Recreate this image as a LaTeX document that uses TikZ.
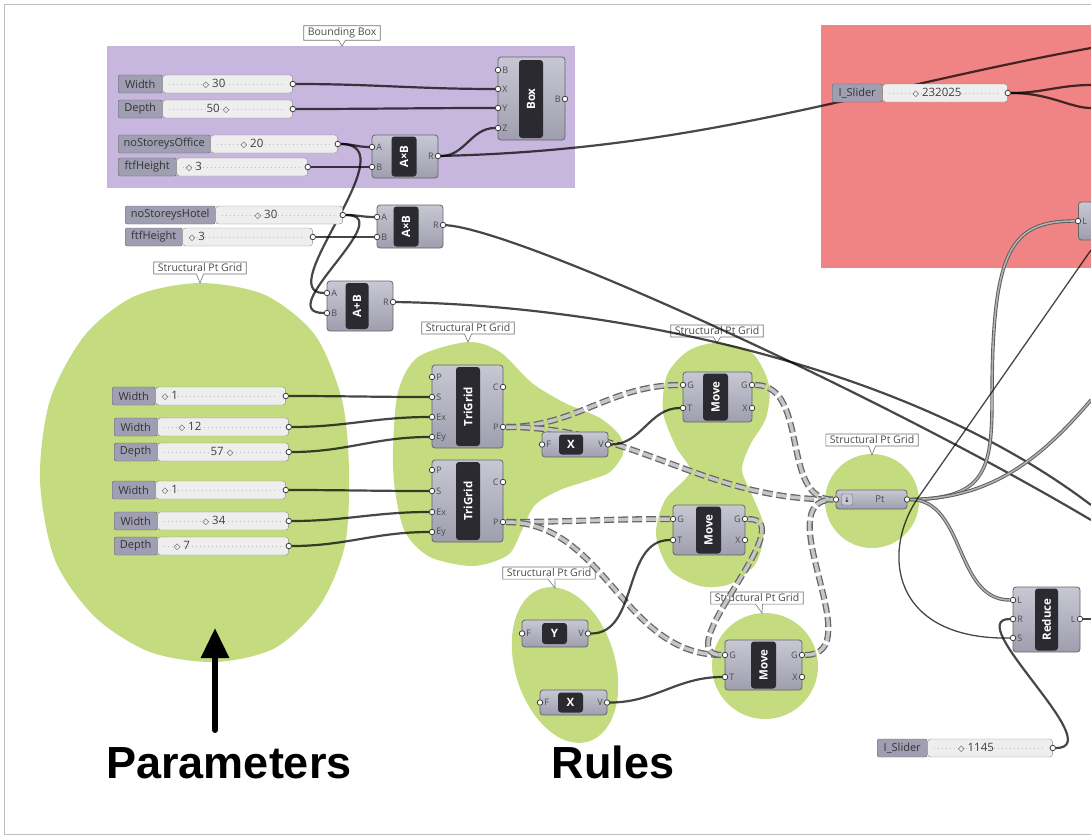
\documentclass[tikz,border=0pt]{standalone}
\usepackage{fontspec}
\setmainfont{Open Sans}
\newfontfamily\headfont{Liberation Sans}
\newfontfamily\knobfont{DejaVu Sans}
\newcommand\knob{{\knobfont\bfseries\fontsize{8.5}{9}\selectfont ◇}}
\usetikzlibrary{arrows.meta,shapes.geometric,shapes.callouts}

\definecolor{grppurple}{RGB}{199,182,221}
\definecolor{grpred}{RGB}{240,131,131}
\definecolor{grpgreen}{RGB}{196,219,128}
\definecolor{comptop}{RGB}{200,200,212}
\definecolor{compbody}{RGB}{158,158,174}
\definecolor{coredark}{RGB}{42,42,48}
\definecolor{slabfill}{RGB}{160,158,178}
\definecolor{barfill}{RGB}{238,238,238}

\pgfdeclarelayer{bg}
\pgfdeclarelayer{wires}
\pgfsetlayers{bg,wires,main}

\begin{document}
\begin{tikzpicture}[x=1pt, y=-1pt,
    comp/.style={draw=black!60, top color=comptop, bottom color=compbody, rounded corners=3pt, line width=0.8pt, inner sep=0pt},
    core/.style={fill=coredark, text=white, rounded corners=3pt, inner sep=0pt, font=\bfseries\fontsize{11.5}{12}\selectfont},
    vcore/.style={core, rotate=90},
    port/.style={circle, draw=black!75, fill=white, line width=0.8pt, minimum size=5.5pt, inner sep=0pt, label distance=1.5pt},
    inp/.style={port, label={[plab]right:#1}},
    outp/.style={port, label={[plab]left:#1}},
    plab/.style={font=\fontsize{9}{10}\selectfont, text=black!70, inner sep=1pt},
    slab/.style={draw=black!60, fill=slabfill, rounded corners=2pt, minimum height=18pt, inner sep=0pt, anchor=west, font=\fontsize{11}{12}\selectfont, text=black!80},
    sbar/.style={draw=black!45, fill=barfill, rounded corners=3pt, minimum height=18pt, inner sep=0pt, anchor=west,
        path picture={\draw[black!25, line width=0.6pt, dash pattern=on 0.6pt off 3.4pt] ([xshift=6pt]path picture bounding box.west) -- ([xshift=-8pt]path picture bounding box.east);}},
    sval/.style={font=\fontsize{11.5}{12}\selectfont, text=black!75, inner sep=0pt},
    hull/.style={fill=grpgreen, inner sep=0pt},
    gtag/.style={rectangle callout, draw=black!55, fill=white, line width=0.6pt, font=\fontsize{10.5}{11}\selectfont, text=black!70, inner xsep=4pt, inner ysep=2pt, callout pointer width=7pt},
    wire/.style={line width=2.2pt, draw=black, draw opacity=0.72},
    treewire/.style={line width=1.3pt, draw=black!60, double=gray!45, double distance=3.5pt, dash pattern=on 10pt off 4pt},
    dblwire/.style={line width=0.9pt, draw=black!65, double=gray!60, double distance=1.6pt},
    bigtxt/.style={font=\headfont\bfseries\fontsize{45}{45}\selectfont, inner sep=0pt, anchor=base},
    bigarrow/.style={line width=6pt, line cap=round, -{Triangle[length=30pt, width=27pt]}}
]
    \useasboundingbox (0,0) rectangle (1091,838);

    % Groups
    \begin{pgfonlayer}{bg}
    \draw[black!25, line width=1pt] (1091,4) -- (4,4) -- (4,834) -- (1091,834);
    \fill[grppurple] (107,46) rectangle (575,188);
    \fill[grpred] (821,25) rectangle (1091,268);
    \fill[grpgreen] plot[smooth cycle] coordinates {(200,283) (265,295) (315,335) (342,400) (349,470) (345,545) (320,605) (275,648) (215,662) (150,652) (95,617) (55,560) (40,480) (50,400) (85,335) (135,296)};
    \fill[grpgreen] plot[smooth cycle] coordinates {(468,342) (500,352) (532,383) (565,403) (600,418) (620,436) (623,454) (610,472) (590,480) (560,490) (535,505) (522,530) (508,555) (473,566) (430,557) (405,532) (395,490) (393,450) (398,392) (418,357)};
    \fill[grpgreen] plot[smooth cycle] coordinates {(717,343) (752,353) (769,385) (766,418) (750,445) (742,470) (752,495) (764,528) (756,563) (730,584) (700,586) (670,570) (656,535) (665,500) (690,472) (676,447) (663,412) (667,375) (688,351)};
    \node[hull, circle, minimum size=106pt] (mv3hull) at (765,666) {};
    \node[hull, circle, minimum size=94pt] (pthull) at (872,501) {};
    \node[hull, ellipse, minimum width=160pt, minimum height=100pt, rotate=-73] (yxhull) at (565,665) {};

    % Group tags
    \node[gtag, callout absolute pointer={(342,46)}] (bbtag) at (342,33) {Bounding Box};
    \node[gtag, callout absolute pointer={(200,283)}] (partag) at (200,268) {Structural Pt Grid};
    \node[gtag, callout absolute pointer={(468,342)}] (tgtag) at (468,328) {Structural Pt Grid};
    \node[gtag, callout absolute pointer={(717,343)}] (mvtag) at (717,331) {Structural Pt Grid};
    \node[gtag, callout absolute pointer={(872,455)}] (pttag) at (872,440) {Structural Pt Grid};
    \node[gtag, callout absolute pointer={(555,588)}] (yxtag) at (549,573) {Structural Pt Grid};
    \node[gtag, callout absolute pointer={(762,613)}] (mv3tag) at (757,598) {Structural Pt Grid};
    \end{pgfonlayer}

    % Bounding box sliders
    \node[slab, minimum width=44pt] (wB) at (118,84) {Width};
    \node[sbar, minimum width=130pt] (wBbar) at (wB.east) {};
    \node[sval] (wBval) at (214,84) {\knob\ 30};
    \node[port] (wBout) at (wBbar.east) {};
    \node[slab, minimum width=44pt] (dB) at (118,109) {Depth};
    \node[sbar, minimum width=130pt] (dBbar) at (dB.east) {};
    \node[sval] (dBval) at (218,109) {50 \knob};
    \node[port] (dBout) at (dBbar.east) {};
    \node[slab, minimum width=92pt] (offS) at (118,144) {noStoreysOffice};
    \node[sbar, minimum width=127pt] (offSbar) at (offS.east) {};
    \node[sval] (offSval) at (252,144) {\knob\ 20};
    \node[port] (offSout) at (offSbar.east) {};
    \node[slab, minimum width=58pt] (ftf1) at (118,167) {ftfHeight};
    \node[sbar, minimum width=131pt] (ftf1bar) at (ftf1.east) {};
    \node[sval] (ftf1val) at (194,167) {\knob\ 3};
    \node[port] (ftf1out) at (ftf1bar.east) {};

    % Hotel sliders
    \node[slab, minimum width=90pt] (hotS) at (125,215) {noStoreysHotel};
    \node[sbar, minimum width=127pt] (hotSbar) at (hotS.east) {};
    \node[sval] (hotSval) at (266,215) {\knob\ 30};
    \node[port] (hotSout) at (hotSbar.east) {};
    \node[slab, minimum width=57pt] (ftf2) at (125,237) {ftfHeight};
    \node[sbar, minimum width=130pt] (ftf2bar) at (ftf2.east) {};
    \node[sval] (ftf2val) at (197,237) {\knob\ 3};
    \node[port] (ftf2out) at (ftf2bar.east) {};

    % Grid parameters
    \node[slab, minimum width=43pt] (p1) at (112,396) {Width};
    \node[sbar, minimum width=130pt] (p1bar) at (p1.east) {};
    \node[sval] (p1val) at (170,396) {\knob\ 1};
    \node[port] (p1out) at (p1bar.east) {};
    \node[slab, minimum width=43pt] (p2) at (114,427) {Width};
    \node[sbar, minimum width=131pt] (p2bar) at (p2.east) {};
    \node[sval] (p2val) at (190,427) {\knob\ 12};
    \node[port] (p2out) at (p2bar.east) {};
    \node[slab, minimum width=43pt] (p3) at (114,452) {Depth};
    \node[sbar, minimum width=131pt] (p3bar) at (p3.east) {};
    \node[sval] (p3val) at (222,452) {57 \knob};
    \node[port] (p3out) at (p3bar.east) {};
    \node[slab, minimum width=43pt] (p4) at (112,490) {Width};
    \node[sbar, minimum width=130pt] (p4bar) at (p4.east) {};
    \node[sval] (p4val) at (170,490) {\knob\ 1};
    \node[port] (p4out) at (p4bar.east) {};
    \node[slab, minimum width=43pt] (p5) at (114,521) {Width};
    \node[sbar, minimum width=131pt] (p5bar) at (p5.east) {};
    \node[sval] (p5val) at (214,521) {\knob\ 34};
    \node[port] (p5out) at (p5bar.east) {};
    \node[slab, minimum width=43pt] (p6) at (114,546) {Depth};
    \node[sbar, minimum width=131pt] (p6bar) at (p6.east) {};
    \node[sval] (p6val) at (182,546) {\knob\ 7};
    \node[port] (p6out) at (p6bar.east) {};

    % Integer sliders
    \node[slab, minimum width=50pt] (lim) at (832,93) {I\_Slider};
    \node[sbar, minimum width=125pt] (limbar) at (lim.east) {};
    \node[sval] (limval) at (937,93) {\knob\ 232025};
    \node[port] (limout) at (limbar.east) {};
    \node[slab, minimum width=50pt] (cnt) at (877,748) {I\_Slider};
    \node[sbar, minimum width=125pt] (cntbar) at (cnt.east) {};
    \node[sval] (cntval) at (976,748) {\knob\ 1145};
    \node[port] (cntout) at (cntbar.east) {};

    % Box
    \node[comp, minimum width=67pt, minimum height=83pt] (box) at (531.5,98.5) {};
    \node[vcore, minimum width=78pt, minimum height=24pt] (boxcore) at (531,99) {Box};
    \foreach \p/\y in {B/70,X/89,Y/108,Z/128} \node[inp=\p] (box-\p) at (498,\y) {};
    \node[outp=B] (box-oB) at (565,99) {};

    % Multiplications and sum
    \node[comp, minimum width=66pt, minimum height=43pt] (offAB) at (405,156.5) {};
    \node[vcore, minimum width=40pt, minimum height=25pt] (offABcore) at (404,156.5) {A×B};
    \foreach \p/\y in {A/147,B/167} \node[inp=\p] (offAB-\p) at (372,\y) {};
    \node[outp=R] (offAB-oR) at (438,156) {};
    \node[comp, minimum width=66pt, minimum height=43pt] (hotAB) at (410,226.5) {};
    \node[vcore, minimum width=40pt, minimum height=25pt] (hotABcore) at (406,226.5) {A×B};
    \foreach \p/\y in {A/217,B/237} \node[inp=\p] (hotAB-\p) at (377,\y) {};
    \node[outp=R] (hotAB-oR) at (443,225) {};
    \node[comp, minimum width=66pt, minimum height=50pt] (sum) at (360,306) {};
    \node[vcore, minimum width=46pt, minimum height=23pt] (sumcore) at (357,306) {A+B};
    \foreach \p/\y in {A/293,B/313} \node[inp=\p] (sum-\p) at (327,\y) {};
    \node[outp=R] (sum-oR) at (393,302) {};

    % Triangular grids
    \node[comp, minimum width=71pt, minimum height=83pt] (tg1) at (467.5,406.5) {};
    \node[vcore, minimum width=79pt, minimum height=24pt] (tg1core) at (468,406.5) {TriGrid};
    \foreach \p/\y in {P/377,S/397,Ex/417,Ey/437} \node[inp=\p] (tg1-\p) at (432,\y) {};
    \foreach \p/\y in {C/387,P/427} \node[outp=\p] (tg1-o\p) at (503,\y) {};
    \node[comp, minimum width=71pt, minimum height=82pt] (tg2) at (467.5,501) {};
    \node[vcore, minimum width=78pt, minimum height=24pt] (tg2core) at (468,501) {TriGrid};
    \foreach \p/\y in {P/470,S/491,Ex/512,Ey/532} \node[inp=\p] (tg2-\p) at (432,\y) {};
    \foreach \p/\y in {C/482,P/522} \node[outp=\p] (tg2-o\p) at (503,\y) {};

    % Vectors
    \node[comp, minimum width=66pt, minimum height=25pt] (x1) at (575,444.5) {};
    \node[core, minimum width=24pt, minimum height=20pt] (x1core) at (571,444.5) {X};
    \node[inp=F] (x1-F) at (542,444.5) {};
    \node[outp=V] (x1-oV) at (608,444.5) {};
    \node[comp, minimum width=66pt, minimum height=27pt] (y) at (555,633.5) {};
    \node[core, minimum width=25pt, minimum height=21pt] (ycore) at (554.5,633.5) {Y};
    \node[inp=F] (y-F) at (522,633.5) {};
    \node[outp=V] (y-oV) at (588,633.5) {};
    \node[comp, minimum width=67pt, minimum height=25pt] (x2) at (573.5,702.5) {};
    \node[core, minimum width=25pt, minimum height=20pt] (x2core) at (570.5,702.5) {X};
    \node[inp=F] (x2-F) at (540,702.5) {};
    \node[outp=V] (x2-oV) at (607,702.5) {};

    % Moves
    \node[comp, minimum width=69pt, minimum height=50pt] (mv1) at (717.5,397) {};
    \node[vcore, minimum width=47pt, minimum height=25pt] (mv1core) at (715.5,397) {Move};
    \foreach \p/\y in {G/385,T/408} \node[inp=\p] (mv1-\p) at (683,\y) {};
    \foreach \p/\y in {G/385,X/408} \node[outp=\p] (mv1-o\p) at (752,\y) {};
    \node[comp, minimum width=72pt, minimum height=50pt] (mv2) at (709,530) {};
    \node[vcore, minimum width=47pt, minimum height=25pt] (mv2core) at (708.5,530) {Move};
    \foreach \p/\y in {G/519,T/540} \node[inp=\p] (mv2-\p) at (673,\y) {};
    \foreach \p/\y in {G/519,X/540} \node[outp=\p] (mv2-o\p) at (745,\y) {};
    \node[comp, minimum width=77pt, minimum height=50pt] (mv3) at (763.5,665) {};
    \node[vcore, minimum width=47pt, minimum height=25pt] (mv3core) at (763.5,665) {Move};
    \foreach \p/\y in {G/655,T/677} \node[inp=\p] (mv3-\p) at (725,\y) {};
    \foreach \p/\y in {G/655,X/677} \node[outp=\p] (mv3-o\p) at (802,\y) {};

    % Point parameter
    \node[comp, minimum width=71pt, minimum height=19pt] (pt) at (871.5,499.5) {};
    \node[draw=black!60, fill=comptop, rounded corners=1pt, minimum size=11pt, inner sep=0pt, font=\knobfont\fontsize{7}{7}\selectfont] (pticon) at (847,499.5) {↓};
    \node[plab, font=\fontsize{9.5}{10}\selectfont] (ptname) at (880,499.5) {Pt};
    \node[port] (pt-in) at (836,499.5) {};
    \node[port] (pt-out) at (907,499.5) {};

    % Reduce and the cut-off component
    \node[comp, minimum width=67pt, minimum height=65pt] (reduce) at (1046.5,619.5) {};
    \node[vcore, minimum width=62pt, minimum height=23pt] (reducecore) at (1046.5,619.5) {Reduce};
    \foreach \p/\y in {L/600,R/619,S/638} \node[inp=\p] (red-\p) at (1013,\y) {};
    \node[outp=L] (red-oL) at (1080,619) {};
    \node[comp, anchor=west, minimum width=15pt, minimum height=38pt] (redL) at (1078,221) {};
    \node[inp=L] (redL-L) at (1078,221) {};

    % Free wire ends at the right edge
    \coordinate (eOff) at (1091,48);
    \coordinate (eLim1) at (1091,85);
    \coordinate (eLim2) at (1091,108);
    \coordinate (eRedS) at (1091,250);
    \coordinate (ePt) at (1091,400);
    \coordinate (eSum) at (1091,505);
    \coordinate (eHot) at (1091,520);
    \coordinate (eRed) at (1091,619);

    % Labels
    \node[bigtxt] (param) at (229,778) {Parameters};
    \node[bigtxt] (rules) at (613,778) {Rules};
    \coordinate (pfoot) at (215,730);
    \coordinate (ptip) at (215,628);
    \draw[bigarrow] (pfoot) -- (ptip);

    % Wires
    \begin{pgfonlayer}{wires}
    \draw[wire] (wBout) to[out=0,in=180] (box-X);
    \draw[wire] (dBout) to[out=0,in=180] (box-Y);
    \draw[wire] (offSout) to[out=0,in=180] (offAB-A);
    \draw[wire] (ftf1out) to[out=0,in=180] (offAB-B);
    \draw[wire] (offAB-oR) to[out=0,in=180] (box-Z);
    \draw[wire] (offAB-oR) .. controls (700,150) and (860,90) .. (eOff);
    \draw[wire] (hotSout) to[out=0,in=180] (hotAB-A);
    \draw[wire] (ftf2out) to[out=0,in=180] (hotAB-B);
    \draw[wire] (offSout) .. controls (410,144) and (270,293) .. (sum-A);
    \draw[wire] (hotSout) .. controls (400,215) and (270,313) .. (sum-B);
    \draw[wire] (hotAB-oR) .. controls (520,230) and (880,395) .. (eHot);
    \draw[wire] (sum-oR) .. controls (600,305) and (900,360) .. (eSum);

    \draw[wire] (p1out) to[out=0,in=180] (tg1-S);
    \draw[wire] (p2out) to[out=0,in=180] (tg1-Ex);
    \draw[wire] (p3out) to[out=0,in=180] (tg1-Ey);
    \draw[wire] (p4out) to[out=0,in=180] (tg2-S);
    \draw[wire] (p5out) to[out=0,in=180] (tg2-Ex);
    \draw[wire] (p6out) to[out=0,in=180] (tg2-Ey);

    \draw[treewire] (tg1-oP) to[out=0,in=180] (mv1-G);
    \draw[treewire] (tg1-oP) to[out=0,in=180] (pt-in);
    \draw[treewire] (tg2-oP) to[out=0,in=180] (mv2-G);
    \draw[treewire] (tg2-oP) to[out=0,in=180] (mv3-G);
    \draw[treewire] (mv1-oG) .. controls (810,385) and (780,500) .. (pt-in);
    \draw[treewire] (mv2-oG) .. controls (805,519) and (665,655) .. (mv3-G);
    \draw[treewire] (mv3-oG) .. controls (872,655) and (766,500) .. (pt-in);

    \draw[wire] (x1-oV) to[out=0,in=180] (mv1-T);
    \draw[wire] (y-oV) to[out=0,in=180] (mv2-T);
    \draw[wire] (x2-oV) to[out=0,in=180] (mv3-T);

    \draw[dblwire] (pt-out) .. controls (985,499) and (992,470) .. (992,400) .. controls (992,250) and (1010,221) .. (redL-L);
    \draw[dblwire] (pt-out) .. controls (990,499) and (1040,460) .. (ePt);
    \draw[dblwire] (pt-out) to[out=0,in=180] (red-L);
    \draw[wire, line width=1.3pt] (eRedS) -- (920,495) .. controls (880,550) and (890,640) .. (red-S);
    \draw[wire] (cntout) .. controls (1110,748) and (960,619) .. (red-R);
    \draw[wire] (red-oL) -- (eRed);
    \draw[wire] (limout) to[out=0,in=180] (eLim1);
    \draw[wire] (limout) .. controls (1050,93) and (1070,108) .. (eLim2);
    \end{pgfonlayer}
\end{tikzpicture}
\end{document}
